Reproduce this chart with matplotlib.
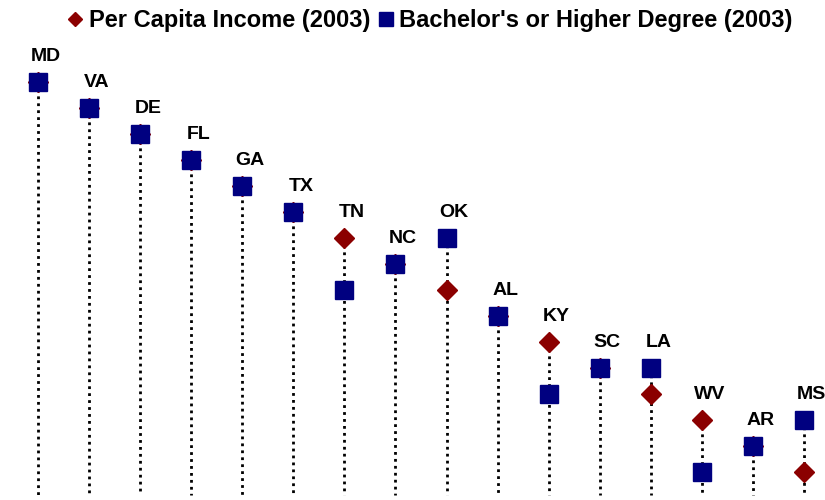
import matplotlib
matplotlib.use('Agg')

import matplotlib.pyplot as plt
import numpy as np

# Southern states ranked on two measures (1 = highest)
states = ['MD', 'VA', 'DE', 'FL', 'GA', 'TX', 'TN', 'NC',
          'OK', 'AL', 'KY', 'SC', 'LA', 'WV', 'AR', 'MS']
income_rank = [1, 2, 3, 4, 5, 6, 7, 8, 9, 10, 11, 12, 13, 14, 15, 16]
degree_rank = [1, 2, 3, 4, 5, 6, 9, 8, 7, 10, 13, 12, 12, 16, 15, 14]

plt.rcParams['font.family'] = ['Liberation Sans', 'DejaVu Sans']

fig = plt.figure(figsize=(8.25, 5), dpi=100)
ax = fig.add_axes([0, 0, 1, 1])

x = np.arange(len(states))
income = np.array(income_rank)
degree = np.array(degree_rank)
top = np.minimum(income, degree)

# dotted drop lines from the upper marker to the bottom
ax.vlines(x, top, 16.9, colors='black', linestyles=(0, (1, 1.5)), linewidth=2, zorder=1)

ax.plot(x, income, linestyle='none', marker='D', markersize=10,
        color='#8b0000', label='Per Capita Income (2003)', zorder=2)
ax.plot(x, degree, linestyle='none', marker='s', markersize=12.5,
        color='#000080', label="Bachelor's or Higher Degree (2003)", zorder=3)

for xi, t, name in zip(x, top, states):
    ax.annotate(name, (xi, t), xytext=(5.5, 18.5), textcoords='offset points',
                ha='center', va='center', fontsize=14, fontweight='bold')

ax.set_xlim(-0.744, 15.411)
ax.set_ylim(17.077, -2.154)
ax.axis('off')

leg = ax.legend(loc='upper center', bbox_to_anchor=(0.522, 1.024), ncol=2, frameon=False,
                prop={'size': 17, 'weight': 'bold'}, handlelength=0.55,
                handletextpad=0.3, columnspacing=0.4, markerscale=0.75)

plt.savefig('out.png', dpi=100)
plt.close()
